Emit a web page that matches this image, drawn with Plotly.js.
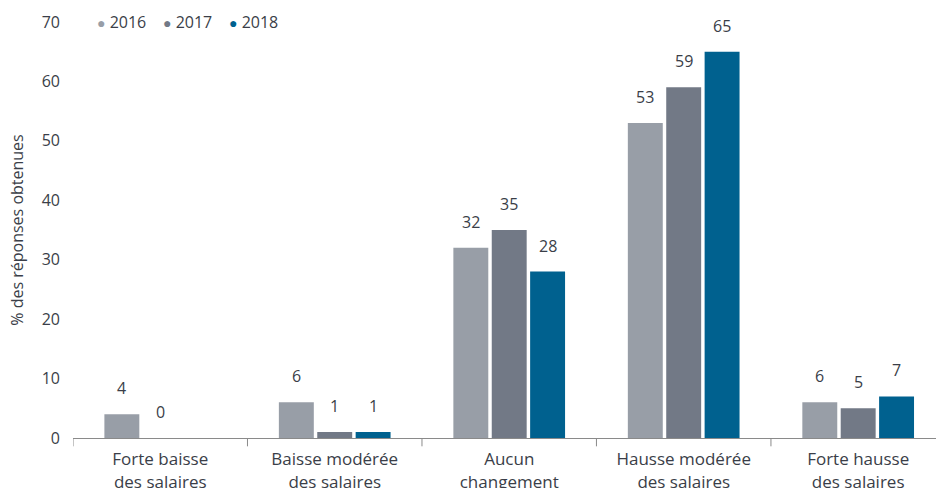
<!DOCTYPE html>
<html><head><meta charset="utf-8">
<script src="https://cdn.plot.ly/plotly-3.0.1.min.js"></script>
<style>html,body{margin:0;padding:0;background:#fff}#c{width:936px;height:488px}</style>
</head><body><div id="c"></div>
<script>
const categories = ["Forte baisse<br>des salaires","Baisse modérée<br>des salaires","Aucun<br>changement","Hausse modérée<br>des salaires","Forte hausse<br>des salaires"];
const years = ["2016","2017","2018"];
const v2016 = [4, 6, 32, 53, 6];
const v2017 = [0, 1, 35, 59, 5];
const v2018 = [null, 1, 28, 65, 7];
const colors = ["#989ea7","#727986","#00618f"];
const series = [v2016, v2017, v2018];
const txt = "#3a3e48";
const font = "'Open Sans', sans-serif";

const xs = categories.map((c,i)=>i);
const traces = [];
series.forEach((vals,j)=>{
  traces.push({type:"bar", x:xs, y:vals, name:years[j], marker:{color:colors[j]}, showlegend:false, hoverinfo:"y"});
});

const bargap = 0.34, bargroupgap = 0.09;
const slot = (1-bargap)/3;
const annotations = [];
series.forEach((vals,j)=>{
  vals.forEach((v,i)=>{
    if (v===null) return;
    annotations.push({x: i + (j-1)*slot, y: v, xref:"x", yref:"y", text: String(v), showarrow:false, yanchor:"middle", yshift:26, font:{size:16, color:txt, family:font}});
  });
});
// legend built as text items
years.forEach((yr,j)=>{
  annotations.push({xref:"paper", yref:"paper", x:0.026 + j*0.0765, y:1.0, xanchor:"left", yanchor:"middle", showarrow:false,
    text:'<span style="color:'+colors[j]+';font-size:14px">●</span> '+yr, font:{size:16, color:txt, family:font}});
});

const layout = {
  width:936, height:488,
  margin:{l:73, r:0, t:22, b:50},
  paper_bgcolor:"#fff", plot_bgcolor:"#fff",
  font:{family:font, size:16, color:txt},
  barmode:"group", bargap:bargap, bargroupgap:bargroupgap,
  showlegend:false,
  xaxis:{tickmode:"array", tickvals:xs, ticktext:categories, range:[-0.5, 4.446], showline:true, linecolor:"#8a8a8a", linewidth:1, ticks:"", showgrid:false, zeroline:false, tickfont:{size:17, color:txt}, ticklabelstandoff:6},
  yaxis:{range:[0,70], dtick:10, showgrid:false, zeroline:false, showline:false, ticks:"", tickfont:{size:16, color:txt}, ticklabelstandoff:12, title:{text:"% des réponses obtenues", font:{size:16, color:txt}, standoff:14}},
  annotations:annotations,
  shapes:[-0.5,0.5,1.5,2.5,3.5].map(b=>({type:"line", xref:"x", yref:"paper", x0:b, x1:b, y0:0, y1:-0.02, line:{color:"#8a8a8a", width:1}}))
};
Plotly.newPlot("c", traces, layout, {displayModeBar:false, staticPlot:true});
</script></body></html>
